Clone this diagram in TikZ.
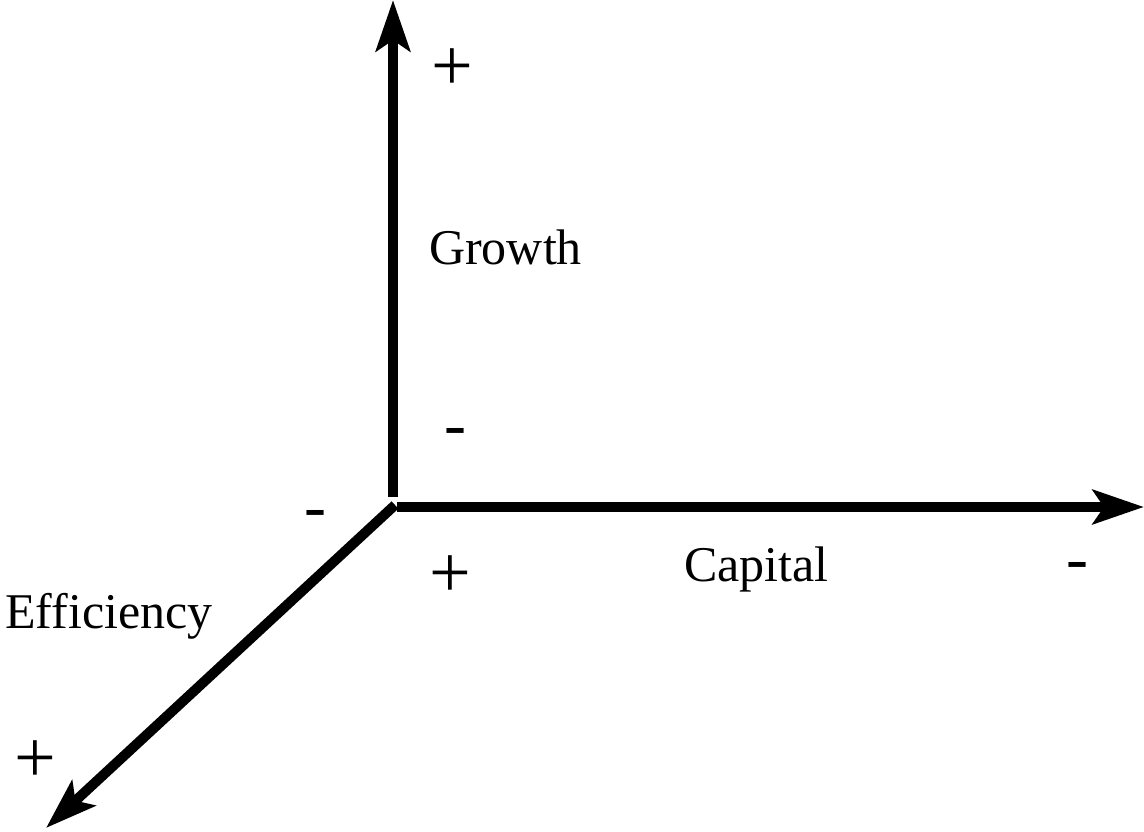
\documentclass[tikz,border=0pt]{standalone}
\usepackage{fontspec}
\setmainfont{Liberation Serif}
\usetikzlibrary{arrows.meta}
\tikzset{
  axis/.style={line width=10pt, line cap=butt, -{Stealth[length=51pt,width=34pt,inset=11pt]}},
  lbl/.style={inner sep=0pt, anchor=base west, font=\fontsize{50}{60}\selectfont},
  sgn/.style={inner sep=0pt, anchor=center, font=\fontsize{66}{70}\selectfont},
  psgn/.style={inner sep=0pt, anchor=center, font=\fontsize{74}{78}\selectfont}
}
\begin{document}
\begin{tikzpicture}[x=1pt,y=-1pt]
\useasboundingbox (0,0) rectangle (1144,832);
\coordinate (oV) at (393,497);
\coordinate (oH) at (397,507);
\coordinate (oD) at (395,505);
\coordinate (tV) at (393,0);
\coordinate (tH) at (1144,507);
\coordinate (tD) at (46,828);
\draw[axis] (oV) -- (tV);
\draw[axis] (oH) -- (tH);
\draw[axis] (oD) -- (tD);
\node[lbl] (growth) at (429,264) {Growth};
\node[lbl] (capital) at (684,581) {Capital};
\node[lbl] (eff) at (5,628) {Efficiency};
\node[psgn] (gp) at (452,70) {+};
\node[sgn] (gm) at (455,437) {-};
\node[sgn] (em) at (315,519) {-};
\node[psgn] (cp) at (450,577) {+};
\node[sgn] (cm) at (1077,571) {-};
\node[psgn] (ep) at (35,762) {+};
\end{tikzpicture}
\end{document}
